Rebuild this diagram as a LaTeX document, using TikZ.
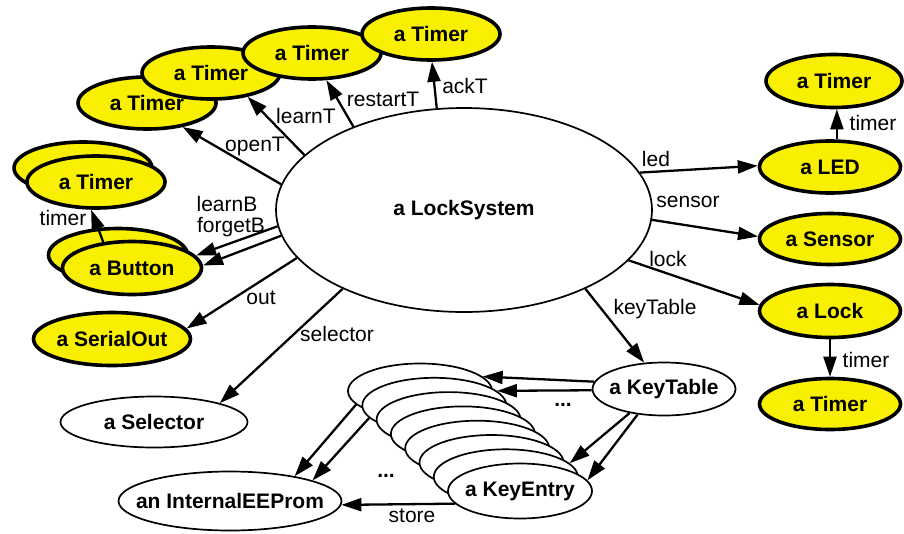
\documentclass[tikz,border=0pt]{standalone}
\usepackage{fontspec}
\setmainfont{Liberation Sans}
\usetikzlibrary{shapes.geometric,arrows.meta}
\definecolor{objyellow}{RGB}{248,240,0}
% zero-width box so long names do not enlarge the ellipse
\newcommand\ctext[1]{\makebox[0pt]{#1}}

\begin{document}
\begin{tikzpicture}[x=1pt,y=-1pt,
  obj/.style={ellipse, draw, line width=1.7pt, fill=white, inner sep=0pt,
              font=\fontsize{21}{25}\selectfont\bfseries},
  hw/.style={obj, fill=objyellow, line width=3.6pt},
  timerobj/.style={hw, minimum width=138, minimum height=52},
  lbl/.style={font=\fontsize{21}{25}\selectfont, inner sep=0pt},
  dots/.style={font=\fontsize{21}{25}\selectfont\bfseries, inner sep=0pt},
  link/.style={line width=2.3pt, -{Triangle[length=20pt,width=13pt]}},
]
\useasboundingbox (0,0) rectangle (904,533);

% central object
\node[obj, minimum width=376, minimum height=204] (ls) at (464,210) {\ctext{a LockSystem}};

% timers owned by the lock system
\node[timerobj] (t-open)    at (147,103) {\ctext{a Timer}};
\node[timerobj] (t-learn)   at (211,73)  {\ctext{a Timer}};
\node[timerobj] (t-restart) at (312,53)  {\ctext{a Timer}};
\node[timerobj] (t-ack)     at (431,34)  {\ctext{a Timer}};

% button collection and their timers
\node[timerobj] (bt-back)  at (83,168)  {};
\node[timerobj] (bt-front) at (96,182)  {\ctext{a Timer}};
\node[hw, minimum width=139, minimum height=53] (bb-back)  at (118,255) {};
\node[hw, minimum width=139, minimum height=53] (bb-front) at (132,268) {\ctext{a Button}};

\node[hw, minimum width=157, minimum height=53] (serial) at (112,339) {\ctext{a SerialOut}};
\node[obj, minimum width=187, minimum height=51] (sel) at (154,422) {\ctext{a Selector}};
\node[obj, minimum width=223, minimum height=59] (iep) at (230,501) {\ctext{an InternalEEProm}};

% right-hand hardware
\node[timerobj, minimum width=136, minimum height=53] (tr) at (834,81) {\ctext{a Timer}};
\node[hw, minimum width=141, minimum height=52] (led)    at (830,167) {\ctext{a LED}};
\node[hw, minimum width=141, minimum height=51] (sensor) at (830,239) {\ctext{a Sensor}};
\node[hw, minimum width=141, minimum height=53] (lock)   at (830,311) {\ctext{a Lock}};
\node[hw, minimum width=141, minimum height=51] (tb)     at (830,404) {\ctext{a Timer}};

% key table and its stack of entries
\node[obj, minimum width=143, minimum height=53] (kt) at (664,389) {\ctext{a KeyTable}};
\foreach \i in {0,...,6}
  \node[obj, minimum width=144, minimum height=55] (k\i) at (420+14.3*\i,391+14.3*\i) {};
\node[obj, minimum width=144, minimum height=55] (k7) at (520,491) {\ctext{a KeyEntry}};

% role names
\node[lbl] (l-ack)     at (465,86)  {ackT};
\node[lbl] (l-restart) at (383,99)  {restartT};
\node[lbl] (l-learn)   at (306,116) {learnT};
\node[lbl] (l-open)    at (255,146) {openT};
\node[lbl] (l-learnb)  at (227,204) {learnB};
\node[lbl] (l-forgetb) at (231,227) {forgetB};
\node[lbl] (l-out)     at (261,298) {out};
\node[lbl] (l-sel)     at (337,334) {selector};
\node[lbl] (l-kt)      at (655,309) {keyTable};
\node[lbl] (l-lock)    at (668,259) {lock};
\node[lbl] (l-sensor)  at (688,202) {sensor};
\node[lbl] (l-led)     at (656,159) {led};
\node[lbl] (l-tr)      at (873,123) {timer};
\node[lbl] (l-tb)      at (866,360) {timer};
\node[lbl] (l-bt)      at (63,218)  {timer};
\node[lbl] (l-store)   at (412,516) {store};
\node[dots] (d-kt)     at (563,405) {...};
\node[dots] (d-iep)    at (386,476) {...};

% links from the lock system
\draw[link] (ls.105) -- (t-ack.272);
\draw[link] (ls.143) -- (t-restart.298);
\draw[link] (ls.161) -- (t-learn.327);
\draw[link] (ls.172) -- (t-open.326);
\draw[link] (ls.185) -- (bb-front.11);
\draw[link] (ls.188) -- (bb-front.2);
\draw[link] (ls.196) -- (serial.8);
\draw[link] (ls.213) -- (sel.16);
\draw[link] (ls.327) -- (kt.127);
\draw[link] (ls.343) -- (lock.175);
\draw[link] (ls.357) -- (sensor.178);
\draw[link] (ls.12)  -- (led.179);

% timers of the devices
\draw[link] (led.76) -- (led.76 |- tr.south);
\draw[link] (lock.south) -- (tb.north);
\draw[link] (bb-front.138) -- (bt-front.260);

% key table to entries, entries to the EEPROM
\draw[link] (kt.174) -- (k0.13);
\draw[link] (kt.181) -- (k1.13);
\draw[link] (kt.215) -- (k6.12);
\draw[link] (kt.224) -- (k7.9);
\draw[link] (k0.192) -- (iep.21);
\draw[link] (k1.191) -- (iep.14);
\draw[link] (k7.191) -- (iep.358);
\end{tikzpicture}
\end{document}
